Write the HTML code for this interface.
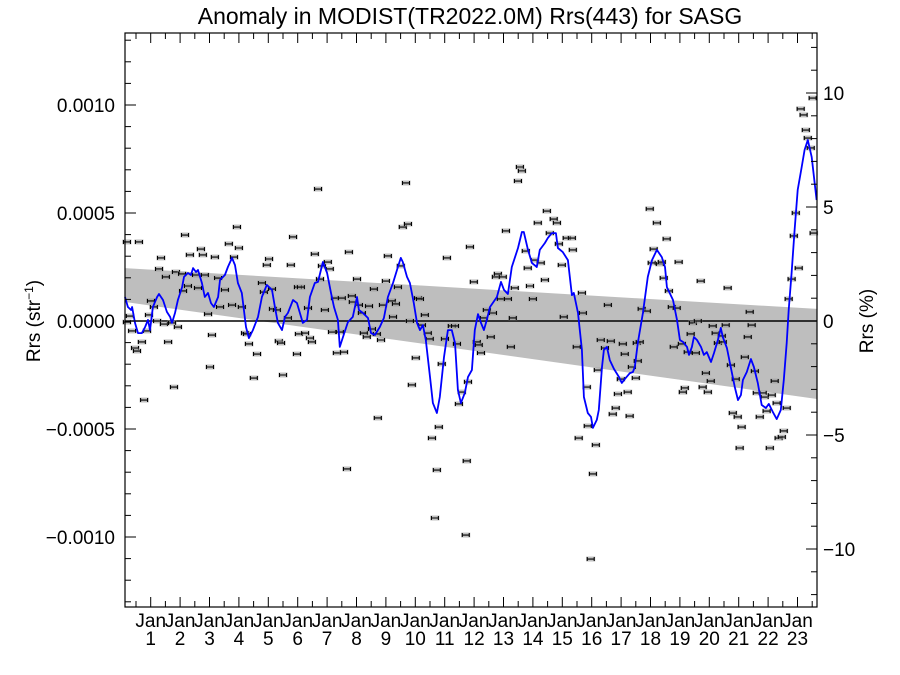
<!DOCTYPE html>
<html><head><meta charset="utf-8"><style>
html,body{margin:0;padding:0;background:#fff;}
svg{display:block;font-family:"Liberation Sans",Arial,sans-serif;}
</style></head><body>
<svg id="chart" width="900" height="675" viewBox="0 0 900 675" xmlns="http://www.w3.org/2000/svg">
<rect x="0" y="0" width="900" height="675" fill="#fff"/>
<text x="470" y="24" text-anchor="middle" font-size="23">Anomaly in MODIST(TR2022.0M) Rrs(443) for SASG</text>
<text transform="translate(40,321) rotate(-90)" text-anchor="middle" font-size="19">Rrs (str<tspan baseline-shift="super" font-size="12">−1</tspan>)</text>
<text transform="translate(873,321) rotate(-90)" text-anchor="middle" font-size="19">Rrs (%)</text>
<g id="band"></g>
<g id="zero"></g>
<g id="pts"></g>
<g id="line"></g>
<g id="axes"></g>
</svg>
<script>
// months since Jan of year 0 ; values in units of 1e-6 sr^-1
const pointMonths=[2.3,2.3,3.5,4.4,5.6,6.4,7.2,8.4,9.3,10.5,11.3,12.1,13.3,14.6,15.4,16.2,17.4,18.2,19.1,20.7,21.5,22.3,23.1,24.8,25.2,26.0,27.2,28.0,30.5,31.3,32.5,33.3,34.1,35.4,36.2,37.0,38.2,39.5,40.3,42.3,43.9,45.2,46.0,47.2,48.0,49.2,50.5,51.3,52.1,54.1,55.4,57.4,58.2,59.4,60.3,61.5,61.9,63.5,64.3,65.2,66.0,68.0,69.2,70.1,71.7,72.1,72.5,
73.3,75.0,76.2,77.0,77.8,79.0,80.3,81.1,81.9,83.1,84.3,85.1,86.0,87.2,88.0,89.2,90.0,90.9,92.1,92.9,94.1,94.5,96.2,97.0,98.2,99.0,100.2,101.1,102.3,103.1,104.3,104.7,106.0,106.8,108.0,108.8,110.4,110.9,112.1,112.9,114.1,114.9,116.2,117.0,117.8,118.6,120.2,121.1,121.9,122.7,123.9,125.1,125.9,126.8,128.0,128.8,129.6,130.8,132.1,132.9,134.9,136.2,137.0,137.8,139.0,140.6,141.0,141.5,142.3,
143.9,145.1,145.9,146.8,148.0,149.2,150.8,151.7,152.9,153.7,154.9,155.7,157.0,157.8,159.0,159.8,160.6,161.9,162.7,163.5,165.1,165.9,166.8,168.0,168.8,170.0,171.2,172.9,173.7,174.9,176.5,177.8,178.6,179.8,180.6,181.8,183.9,184.3,185.9,186.7,188.0,188.4,190.0,190.4,191.6,192.5,193.7,194.5,195.7,197.4,198.6,199.8,200.6,201.8,202.7,203.9,204.7,205.5,206.7,207.5,208.4,
210.0,210.4,210.8,211.6,212.4,214.5,215.7,216.5,217.3,218.6,219.8,220.6,221.4,222.6,223.5,224.7,225.5,226.7,227.5,228.8,229.2,230.0,231.2,232.4,233.3,234.5,235.3,236.5,237.3,238.6,239.4,240.6,241.4,242.6,243.5,245.1,245.5,246.7,247.5,248.8,249.6,250.8,251.6,252.4,253.2,254.5,255.7,256.5,257.3,258.6,259.4,260.6,261.8,262.6,263.4,264.7,265.5,266.7,267.5,268.3,269.6,270.4,271.6,272.4,273.6,274.5,275.3,276.5,277.3,278.5,279.4,280.2,281.4,282.2,282.6];
const pointValues=[366,-5,23,-46,-125,-139,366,-97,-366,-46,28,93,65,0,241,292,-14,204,-97,-9,-306,227,-28,218,139,398,162,306,213,153,333,306,213,32,-213,-65,296,199,65,144,357,74,296,435,338,65,-56,-60,-106,-264,-153,176,134,259,287,148,56,51,-93,-102,-250,14,259,389,-153,157,-60,
157,-56,60,-79,-97,310,611,194,255,51,273,241,-51,106,-148,-51,106,-144,-685,319,116,88,194,74,37,-56,-74,69,-37,148,-60,-449,-88,74,185,301,93,19,79,157,255,435,639,449,0,-296,-171,106,102,-19,28,-56,-83,-542,-912,-690,-491,-199,-83,292,-23,-23,-106,-384,-329,-991,-648,-282,343,
181,-97,-111,-148,14,51,-74,37,204,218,102,204,417,102,-120,14,153,648,713,695,324,245,162,102,282,454,269,190,509,407,472,454,357,259,19,384,384,329,-120,-542,130,37,-306,-486,-1102,-708,-574,-227,-88,-125,74,-93,-431,-403,-338,-269,-106,-153,-329,-440,-213,
-264,-102,-185,-97,56,46,519,269,333,454,264,273,199,380,139,65,-120,60,273,-106,-329,-310,-144,-60,-9,-148,0,185,-306,-241,-329,-278,-23,-56,-102,-69,-97,-19,153,-204,-426,-269,-444,-588,-491,-167,-74,42,-19,-232,-333,-444,-333,-352,-417,-588,-343,-278,-380,-542,-537,-509,-403,102,194,394,500,245,982,954,884,847,801,1032,407];
const lineMonths=[1.5,2.7,4.0,4.4,5.6,6.8,8.4,9.7,10.9,11.7,12.9,14.6,15.4,17.0,18.6,19.9,20.7,21.9,23.1,24.8,25.6,27.2,28.4,29.3,30.5,31.3,32.9,34.1,35.4,36.6,37.8,39.5,40.3,42.3,43.5,45.2,46.4,47.6,49.2,50.9,52.1,53.7,55.8,57.4,59.4,61.5,62.7,63.9,65.6,66.8,68.0,70.1,71.7,72.9,74.1,75.8,77.0,79.0,80.3,82.3,84.0,85.6,86.8,88.4,89.2,90.5,92.5,94.5,96.2,97.0,98.6,100.7,101.9,103.5,105.5,107.2,108.8,110.9,112.9,114.1,114.9,116.6,117.8,119.4,120.7,121.9,123.1,124.3,126.0,127.2,128.8,130.0,131.7,133.3,134.9,136.2,137.4,138.6,140.2,141.5,143.1,144.3,145.6,146.8,148.0,149.2,150.5,153.3,155.0,156.2,157.8,159.4,161.9,163.5,164.3,166.0,167.6,169.6,170.8,172.9,174.1,175.7,177.4,178.2,180.2,182.3,183.9,184.7,186.4,188.0,188.8,190.4,191.7,192.5,194.1,194.9,196.2,197.0,198.2,199.4,201.1,203.1,204.3,205.5,207.6,208.8,209.6,210.8,212.9,214.9,216.6,218.6,220.6,221.9,222.7,225.2,226.8,228.0,229.3,230.9,231.7,232.9,233.7,235.0,236.6,237.8,239.0,240.7,241.9,243.5,244.7,245.5,247.2,248.4,250.4,251.7,252.9,253.7,255.3,257.0,258.2,259.8,261.4,263.1,264.3,265.9,267.5,269.2,270.4,271.6,272.4,273.6,274.8,276.1,277.7,278.9,280.2,281.8,283.8];
const lineValues=[111,65,51,65,-9,-56,-56,-28,5,-42,65,111,125,97,42,19,-9,37,97,157,204,222,213,245,227,236,176,111,130,83,65,111,190,213,250,292,259,176,130,-28,-79,-42,19,111,167,144,65,-9,-42,19,37,97,83,37,-9,5,111,176,181,273,222,130,65,5,-120,-74,-5,19,111,51,37,14,-56,-65,-28,14,111,176,250,292,273,204,176,83,-9,-42,-19,-88,-259,-380,-426,-352,-167,-42,-42,-102,-319,-380,-333,-259,-227,-42,32,-9,-42,5,65,111,181,144,125,250,338,412,412,329,269,250,329,361,384,407,407,338,319,282,120,130,37,-134,-352,-426,-444,-495,-458,-412,-213,-134,-120,-181,-222,-259,-287,-269,-241,-236,-213,-102,37,204,282,329,296,250,157,97,5,-88,-97,-120,-157,-120,-74,-88,-120,-157,-144,-190,-148,-88,-32,-74,-125,-194,-306,-366,-343,-273,-236,-176,-213,-287,-389,-403,-384,-421,-454,-412,-273,-102,51,222,421,607,713,792,838,759,560];
const bandMonths=[1.51,283.96];
const bandUpper=[245,56];
const bandLower=[88,-361];
const yTicksLeft=[-0.0010,-0.0005,0.0000,0.0005,0.0010];
const yTickLabelsLeft=["\u22120.0010","\u22120.0005","0.0000","0.0005","0.0010"];
const yTicksRight=[-10,-5,0,5,10];
const yTickLabelsRight=["\u221210","\u22125","0","5","10"];
const yearLabels=["1","2","3","4","5","6","7","8","9","10","11","12","13","14","15","16","17","18","19","20","21","22","23"];

const L=125,R=817,T=33,B=607,M0=1.51,M1=283.96;
const VZ=321, VS=0.216; // px per 1e-6
function xs(m){return L+(m-M0)*(R-L)/(M1-M0);}
function ys(v){return VZ-v*VS;}
function yp(p){return VZ-p*22.8;}
const NS="http://www.w3.org/2000/svg";
function mk(tag,attrs,parent){const e=document.createElementNS(NS,tag);for(const k in attrs)e.setAttribute(k,attrs[k]);parent.appendChild(e);return e;}

const band=document.getElementById('band');
let d="M"+xs(bandMonths[0])+","+ys(bandUpper[0])+" L"+xs(bandMonths[1])+","+ys(bandUpper[1])+" L"+xs(bandMonths[1])+","+ys(bandLower[1])+" L"+xs(bandMonths[0])+","+ys(bandLower[0])+" Z";
const bp=mk('path',{d:d,fill:"#bebebe",stroke:"none"},band);



const zl=mk('line',{x1:L,x2:R,y1:ys(0),y2:ys(0),stroke:"#000","stroke-width":1.5},document.getElementById('zero'));



const pts=document.getElementById('pts');
for(let i=0;i<pointMonths.length;i++){
  const cx=xs(pointMonths[i]),cy=ys(pointValues[i]);
  const g=mk('g',{},pts);
  
  
  mk('rect',{x:cx-4.5,y:cy-2.5,width:9,height:5,fill:"#999","fill-opacity":0.6},g);
  mk('path',{d:"M"+(cx-3.5)+","+cy+"H"+(cx+3.5)+"M"+(cx-3.5)+","+(cy-2)+"V"+(cy+2)+"M"+(cx+3.5)+","+(cy-2)+"V"+(cy+2),stroke:"#000","stroke-width":1.1,fill:"none"},g);
}

let ld="";
for(let i=0;i<lineMonths.length;i++){ld+=(i?"L":"M")+xs(lineMonths[i]).toFixed(1)+","+ys(lineValues[i]).toFixed(1);}
const lp=mk('path',{d:ld,fill:"none",stroke:"#0000ff","stroke-width":1.8,"stroke-linejoin":"round"},document.getElementById('line'));



const ax=document.getElementById('axes');
const fr=mk('rect',{x:L,y:T,width:R-L,height:B-T,fill:"none",stroke:"#000","stroke-width":1.2},ax);


for(let v=-1300;v<=1300;v+=100){const y=ys(v);const big=(Math.abs(v)%500===0);mk('line',{x1:L,x2:L+(big?11:6),y1:y,y2:y,stroke:"#000","stroke-width":1},ax);}
for(let i=0;i<yTicksLeft.length;i++){
  const t=mk('text',{x:L-10,y:ys(yTicksLeft[i]*1e6)+7,"text-anchor":"end","font-size":19},ax);
  t.textContent=yTickLabelsLeft[i];
  
  
}
for(let p=-12;p<=12;p++){const y=yp(p);const big=(p%5===0);mk('line',{x1:R,x2:R-(big?11:6),y1:y,y2:y,stroke:"#000","stroke-width":1},ax);}
for(let i=0;i<yTicksRight.length;i++){
  const t=mk('text',{x:R+6,y:yp(yTicksRight[i])+7,"text-anchor":"start","font-size":19},ax);
  t.textContent=yTickLabelsRight[i];
  
  
}
for(let m=6;m<M1;m+=6){const x=xs(m);const big=(m%12===0);const h=big?10:6;
  mk('line',{x1:x,x2:x,y1:B,y2:B-h,stroke:"#000","stroke-width":1},ax);
  mk('line',{x1:x,x2:x,y1:T,y2:T+h,stroke:"#000","stroke-width":1},ax);}
for(let i=0;i<yearLabels.length;i++){
  const x=xs(12*(i+1));
  const t1=mk('text',{x:x,y:627,"text-anchor":"middle","font-size":19},ax);
  t1.textContent="Jan";
  
  
  const t2=mk('text',{x:x,y:645,"text-anchor":"middle","font-size":19},ax);
  t2.textContent=yearLabels[i];
  
  
}
</script>
</body></html>
